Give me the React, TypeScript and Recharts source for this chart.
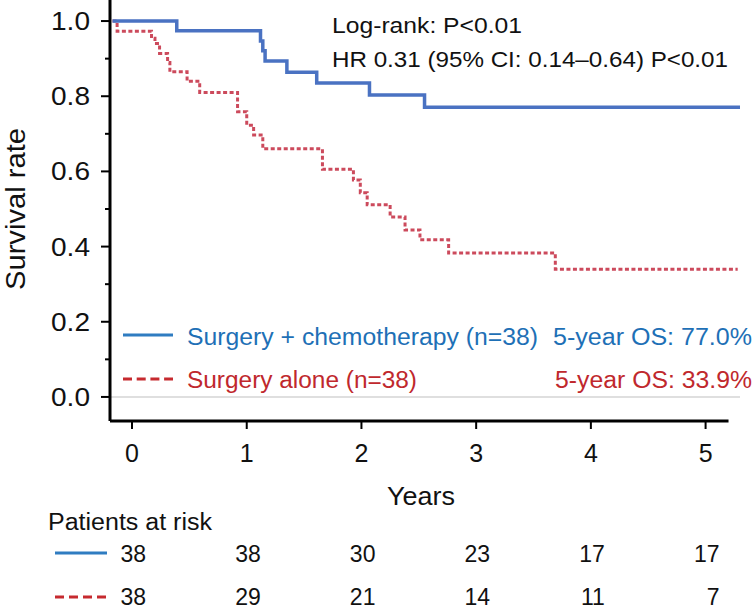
import React from "react";
import { LineChart, Line, XAxis, YAxis, ReferenceLine } from "recharts";

// Kaplan-Meier steps (time in years, survival proportion)
const chemoYears = [-0.17, 0.39, 1.12, 1.14, 1.16, 1.35, 1.61, 2.07, 2.55, 5.3];
const chemoSurv = [1.0, 0.974, 0.947, 0.921, 0.894, 0.864, 0.835, 0.803, 0.771, 0.771];

const aloneYears = [
  -0.17, -0.13, 0.17, 0.2, 0.24, 0.31, 0.33, 0.48, 0.59, 0.92, 1.0, 1.06, 1.14,
  1.66, 1.93, 1.99, 2.05, 2.25, 2.38, 2.51, 2.76, 3.69, 5.28,
];
const aloneSurv = [
  1.0, 0.973, 0.954, 0.94, 0.914, 0.89, 0.865, 0.84, 0.81, 0.759, 0.723, 0.697, 0.66,
  0.606, 0.577, 0.543, 0.511, 0.479, 0.444, 0.418, 0.383, 0.34, 0.34,
];

// patients at risk table
const riskYears = [0, 1, 2, 3, 4, 5];
const chemoAtRisk = [38, 38, 30, 23, 17, 17];
const aloneAtRisk = [38, 29, 21, 14, 11, 7];

const yTicks = [0, 0.1, 0.2, 0.3, 0.4, 0.5, 0.6, 0.7, 0.8, 0.9, 1.0];

const chemoData = chemoYears.map((t, i) => ({ t, s: chemoSurv[i] }));
const aloneData = aloneYears.map((t, i) => ({ t, s: aloneSurv[i] }));

const FONT = "'Liberation Sans', Arial, Helvetica, sans-serif";
const BLUE_CURVE = "#4a72c2";
const RED_CURVE = "#cc4a5c";
const BLUE_TEXT = "#1e70b6";
const RED_TEXT = "#c0282d";

const X_MIN = -0.192;
const X_MAX = 5.3;
const Y_MIN = -0.064;
const Y_MAX = 1.056;

// reference font is a bit wider than Arial, so stretch text to measured widths
const wide = (w: number) => ({ textLength: w, lengthAdjust: "spacingAndGlyphs" as const });

const YTick = (props: any) => {
  const { x, y, payload } = props;
  const major = Math.round(payload.value * 10) % 2 === 0;
  return (
    <g>
      <line x1={x - (major ? 9 : 5)} x2={x} y1={y} y2={y} stroke="#000" strokeWidth={2} />
      {major && (
        <text x={x - 20} y={y + 9} textAnchor="end" fontSize={25} fontFamily={FONT} fill="#111" {...wide(39)}>
          {payload.value.toFixed(1)}
        </text>
      )}
    </g>
  );
};

const XTick = (props: any) => {
  const { x, y, payload } = props;
  return (
    <g>
      <line x1={x} x2={x} y1={y} y2={y + 8} stroke="#000" strokeWidth={2} />
      <text x={x} y={y + 41} textAnchor="middle" fontSize={25} fontFamily={FONT} fill="#111">
        {payload.value}
      </text>
    </g>
  );
};

const riskTick = (counts: number[], dy: number) => (props: any) => {
  const { x, y, payload } = props;
  const i = riskYears.indexOf(payload.value);
  return (
    <text x={x + 14} y={y + dy} textAnchor="end" fontSize={23} fontFamily={FONT} fill="#111">
      {i >= 0 ? counts[i] : ""}
    </text>
  );
};

const Overlay = () => (
  <svg
    width={755}
    height={608}
    style={{ position: "absolute", left: 0, top: 0, pointerEvents: "none" }}
    fontFamily={FONT}
  >
    <text x={332} y={33} fontSize={21.5} fill="#111" {...wide(190)}>Log-rank: P&lt;0.01</text>
    <text x={332} y={67} fontSize={21.5} fill="#111" {...wide(396)}>HR 0.31 (95% CI: 0.14–0.64) P&lt;0.01</text>

    <line x1={123} x2={173} y1={335} y2={335} stroke="#2f7cc1" strokeWidth={3} />
    <text x={187} y={345} fontSize={23} fill={BLUE_TEXT} {...wide(351)}>Surgery + chemotherapy (n=38)</text>
    <text x={553} y={345} fontSize={23} fill={BLUE_TEXT} {...wide(199)}>5-year OS: 77.0%</text>

    <line x1={123} x2={173} y1={379} y2={379} stroke="#c62a2f" strokeWidth={3} strokeDasharray="9 4.7" />
    <text x={187} y={388} fontSize={23} fill={RED_TEXT} {...wide(230)}>Surgery alone (n=38)</text>
    <text x={555} y={388} fontSize={23} fill={RED_TEXT} {...wide(197)}>5-year OS: 33.9%</text>

    <text transform="translate(25,209) rotate(-90)" textAnchor="middle" fontSize={27} fill="#111" {...wide(162)}>
      Survival rate
    </text>

    <text x={421} y={505} textAnchor="middle" fontSize={25} fill="#111" {...wide(68)}>Years</text>

    <text x={48} y={530} fontSize={23} fill="#111" {...wide(164)}>Patients at risk</text>
    <line x1={55} x2={107} y1={553} y2={553} stroke="#2f7cc1" strokeWidth={3} />
    <line x1={55} x2={107} y1={597} y2={597} stroke="#c62a2f" strokeWidth={3} strokeDasharray="9 5" />
  </svg>
);

export default function App() {
  return (
    <div style={{ position: "absolute", left: 0, top: 0, width: 755, height: 608, background: "#fff", fontFamily: FONT }}>
      <LineChart width={755} height={608} margin={{ top: 0, right: 15, left: 0, bottom: 0 }}>
        <XAxis
          dataKey="t"
          type="number"
          domain={[X_MIN, X_MAX]}
          allowDataOverflow
          ticks={riskYears}
          axisLine={false}
          tickLine={false}
          tickSize={0}
          tickMargin={0}
          tick={<XTick />}
          height={90}
          interval={0}
        />
        <XAxis
          xAxisId="risk1"
          dataKey="t"
          type="number"
          domain={[X_MIN, X_MAX]}
          allowDataOverflow
          ticks={riskYears}
          axisLine={false}
          tickLine={false}
          tickSize={0}
          tickMargin={0}
          tick={riskTick(chemoAtRisk, 51)}
          height={45}
          interval={0}
        />
        <XAxis
          xAxisId="risk2"
          dataKey="t"
          type="number"
          domain={[X_MIN, X_MAX]}
          allowDataOverflow
          ticks={riskYears}
          axisLine={false}
          tickLine={false}
          tickSize={0}
          tickMargin={0}
          tick={riskTick(aloneAtRisk, 49)}
          height={52}
          interval={0}
        />
        <YAxis
          type="number"
          domain={[Y_MIN, Y_MAX]}
          allowDataOverflow
          ticks={yTicks}
          width={110}
          axisLine={{ stroke: "#000", strokeWidth: 3 }}
          tickLine={false}
          tickSize={0}
          tickMargin={0}
          tick={<YTick />}
          interval={0}
        />
        <ReferenceLine y={0} stroke="#d4d4d4" strokeWidth={1.5} />
        <ReferenceLine
          segment={[
            { x: X_MIN, y: Y_MIN },
            { x: 5.2, y: Y_MIN },
          ]}
          stroke="#000"
          strokeWidth={3}
          ifOverflow="visible"
        />
        <Line
          data={aloneData}
          dataKey="s"
          type="stepAfter"
          stroke={RED_CURVE}
          strokeWidth={3}
          strokeDasharray="4 2.5"
          dot={false}
          isAnimationActive={false}
        />
        <Line
          data={chemoData}
          dataKey="s"
          type="stepAfter"
          stroke={BLUE_CURVE}
          strokeWidth={3.5}
          dot={false}
          isAnimationActive={false}
        />
      </LineChart>
      <Overlay />
    </div>
  );
}
